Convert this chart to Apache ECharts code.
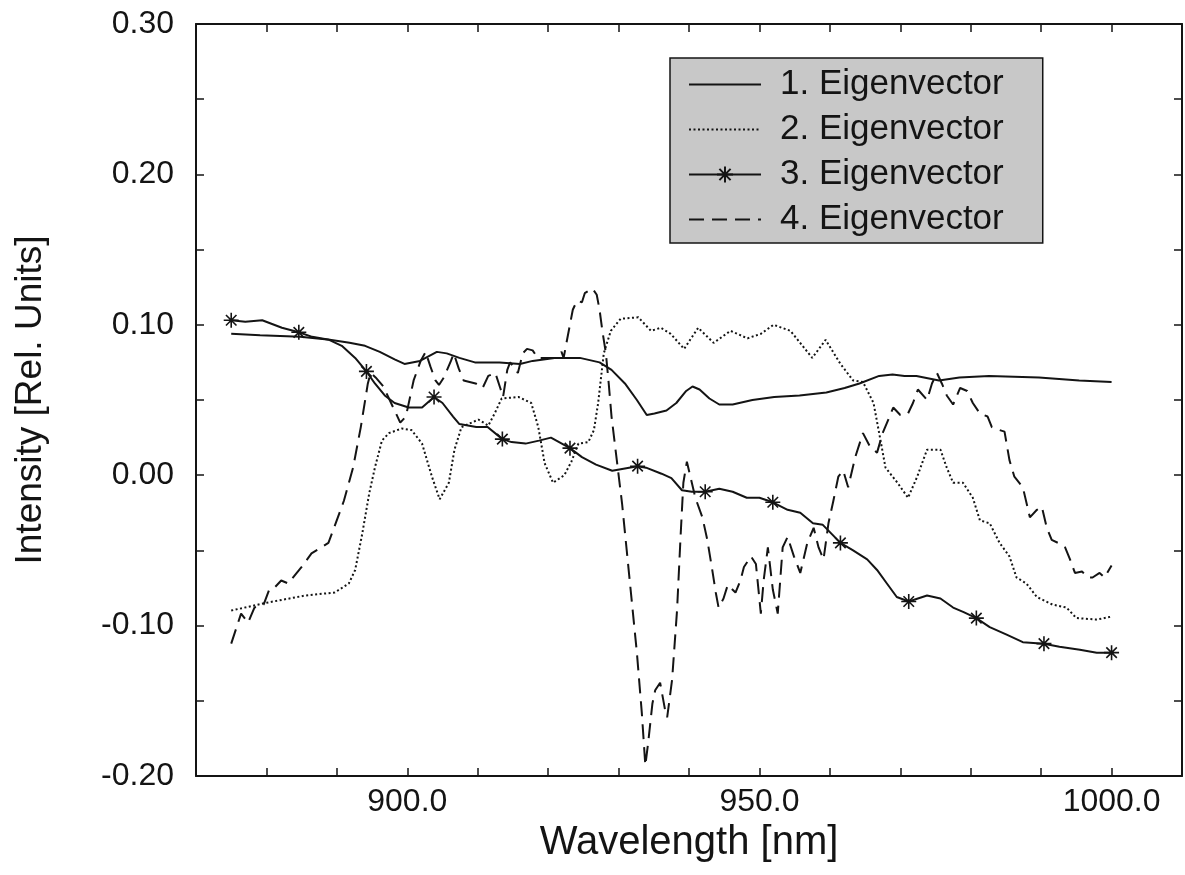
<!DOCTYPE html>
<html>
<head>
<meta charset="utf-8">
<title>Eigenvectors</title>
<script src="https://cdn.jsdelivr.net/npm/echarts@6/dist/echarts.min.js"></script>
<style>
  html, body { margin: 0; padding: 0; background: #fff; }
  #chart { width: 1185px; height: 875px; }
</style>
</head>
<body>
<div id="chart"></div>
<script>
// series names, in legend order
const names = ['1. Eigenvector', '2. Eigenvector', '3. Eigenvector', '4. Eigenvector'];
const xLabels = [900, 950, 1000];

// [wavelength nm, intensity]
const ev1 = [
  [875, 0.094], [879.1, 0.093], [884.8, 0.092], [889, 0.090], [891.8, 0.088], [894, 0.086],
  [896.1, 0.082], [898.2, 0.077], [899.6, 0.074], [901.8, 0.076], [904.2, 0.082], [905.6, 0.081],
  [907.4, 0.078], [909.6, 0.075], [913.1, 0.075], [916, 0.074], [917.8, 0.076], [920.9, 0.078],
  [924.5, 0.078], [927.3, 0.075], [929, 0.070], [930.9, 0.061], [932.6, 0.050], [934, 0.040],
  [935.1, 0.041], [936.8, 0.043], [938.2, 0.048], [939.6, 0.056], [940.5, 0.059], [941.5, 0.057],
  [942.9, 0.051], [944.3, 0.047], [946.2, 0.047], [949, 0.050], [952.1, 0.052], [955.7, 0.053],
  [959.5, 0.055], [962.1, 0.058], [964.2, 0.061], [967, 0.066], [968.9, 0.067], [970.6, 0.066],
  [972.3, 0.066], [975.5, 0.063], [978.4, 0.065], [982.6, 0.066], [989.7, 0.065], [995.4, 0.063],
  [1000, 0.062]
];

const ev2 = [
  [875, -0.090], [879.8, -0.085], [885.5, -0.080], [889.7, -0.078], [891.7, -0.072], [892.6, -0.063],
  [893.6, -0.039], [894.6, -0.012], [895.4, 0.005], [896.4, 0.023], [897.4, 0.028], [899.2, 0.031],
  [900.6, 0.030], [902.1, 0.021], [903.5, -0.001], [904.6, -0.016], [905.9, -0.005], [906.7, 0.017],
  [907.7, 0.032], [910.1, 0.037], [911.5, 0.033], [912.4, 0.041], [913.4, 0.051], [915.8, 0.052],
  [917.6, 0.048], [918.6, 0.032], [919.5, 0.008], [920.7, -0.005], [922.3, 0.000], [923.3, 0.009],
  [924.3, 0.021], [925.7, 0.022], [926.5, 0.030], [927.1, 0.048], [927.9, 0.081], [928.9, 0.096],
  [930.3, 0.104], [932.8, 0.105], [934.6, 0.096], [936, 0.098], [937.4, 0.094], [939.3, 0.084],
  [941.3, 0.098], [943.5, 0.088], [945.9, 0.096], [948.3, 0.091], [950.2, 0.094], [952, 0.100],
  [954.4, 0.096], [957.5, 0.078], [959.4, 0.090], [961.5, 0.074], [963.3, 0.063], [964.7, 0.062],
  [966.2, 0.048], [967.2, 0.023], [967.9, 0.005], [969.6, -0.005], [971.1, -0.015], [972.4, -0.001],
  [973.8, 0.017], [975.7, 0.017], [976.6, 0.005], [977.5, -0.005], [978.9, -0.005], [980.3, -0.015],
  [981.3, -0.030], [982.7, -0.032], [984.1, -0.045], [985.5, -0.054], [986.5, -0.068], [987.9, -0.072],
  [989.4, -0.081], [991.6, -0.086], [993.6, -0.088], [995, -0.095], [997.9, -0.096], [1000, -0.094]
];

const ev3 = [
  [875, 0.103], [877, 0.102], [879.4, 0.103], [882.2, 0.098], [884.6, 0.095], [886.5, 0.092],
  [888.9, 0.090], [890.7, 0.086], [892.6, 0.078], [894.2, 0.069], [895.4, 0.061], [896.8, 0.053],
  [898.2, 0.048], [900.2, 0.045], [902.1, 0.045], [903.8, 0.052], [905, 0.048], [906.5, 0.039],
  [907.4, 0.034], [909.8, 0.032], [911.4, 0.032], [913.5, 0.024], [914.8, 0.022], [916.8, 0.021],
  [918.7, 0.023], [920.4, 0.025], [923.1, 0.018], [924.8, 0.012], [926.8, 0.007], [929.1, 0.003],
  [932.7, 0.006], [933.9, 0.005], [936.1, 0.001], [937.5, -0.002], [939, -0.010], [940.4, -0.011],
  [942.3, -0.011], [944.3, -0.009], [946.2, -0.011], [948.2, -0.015], [950, -0.015], [951.9, -0.018],
  [954, -0.023], [955.8, -0.025], [957.6, -0.032], [959, -0.033], [961.5, -0.045], [963.3, -0.050],
  [965.3, -0.056], [966.7, -0.063], [968.1, -0.072], [969.5, -0.081], [971.2, -0.084], [973.8, -0.080],
  [975.7, -0.082], [977.5, -0.088], [979, -0.091], [980.8, -0.095], [982.7, -0.101], [985.1, -0.106],
  [987.4, -0.111], [990.4, -0.112], [992.6, -0.114], [995.5, -0.116], [997.9, -0.118], [1000, -0.118]
];
// wavelengths of ev3 that carry a star marker
const ev3Marks = [875, 884.6, 894.2, 903.8, 913.5, 923.1, 932.7, 942.3, 951.9, 961.5, 971.2, 980.8, 990.4, 1000];

const ev4 = [
  [875, -0.112], [876.4, -0.092], [877.4, -0.098], [878.3, -0.088], [879.6, -0.086], [880.4, -0.076],
  [881.1, -0.075], [882.1, -0.070], [883.1, -0.072], [885, -0.061], [886.4, -0.052], [887.8, -0.048],
  [888.8, -0.045], [889.6, -0.035], [891, -0.017], [892.3, 0.005], [893.4, 0.032], [894.4, 0.061],
  [894.8, 0.068], [895.5, 0.065], [896.6, 0.059], [898, 0.045], [899, 0.035], [899.8, 0.039],
  [900.9, 0.063], [901.9, 0.076], [902.6, 0.082], [903.3, 0.072], [904, 0.063], [904.5, 0.060],
  [905.2, 0.065], [906.2, 0.076], [906.6, 0.081], [907.3, 0.071], [908, 0.063], [909.7, 0.061],
  [910.7, 0.058], [911.5, 0.066], [912.5, 0.068], [913.2, 0.058], [913.6, 0.052], [914.2, 0.070],
  [914.6, 0.075], [915.3, 0.071], [915.7, 0.068], [916.4, 0.081], [917, 0.084], [917.8, 0.083],
  [918.5, 0.078], [921.2, 0.078], [921.9, 0.082], [922.2, 0.078], [922.6, 0.088], [923.5, 0.110],
  [924.1, 0.116], [924.8, 0.115], [925.2, 0.121], [925.9, 0.123], [926.3, 0.124], [926.9, 0.120],
  [927.3, 0.110], [927.7, 0.096], [928.2, 0.081], [928.6, 0.061], [929, 0.039], [929.8, 0.008],
  [930.5, -0.019], [931.2, -0.052], [931.9, -0.085], [932.6, -0.118], [933.3, -0.158], [933.8, -0.193],
  [934.2, -0.178], [934.8, -0.152], [935.2, -0.143], [935.9, -0.138], [936.6, -0.156], [936.9, -0.161],
  [937.6, -0.136], [938.3, -0.090], [938.8, -0.041], [939.2, -0.005], [939.7, 0.009], [940.2, -0.001],
  [940.9, -0.015], [941.9, -0.028], [942.6, -0.043], [943.3, -0.063], [943.8, -0.078], [944.2, -0.088],
  [944.9, -0.082], [945.5, -0.073], [946.6, -0.078], [947.3, -0.070], [947.8, -0.061], [948.8, -0.054],
  [949.5, -0.059], [950.2, -0.092], [950.6, -0.070], [951.2, -0.048], [951.9, -0.076], [952.6, -0.092],
  [953.3, -0.048], [954, -0.041], [954.9, -0.054], [955.8, -0.065], [956.8, -0.045], [957.7, -0.035],
  [958.4, -0.048], [959.1, -0.056], [959.8, -0.032], [960.5, -0.017], [961.2, -0.001], [961.9, 0.003],
  [962.6, -0.008], [963.6, 0.012], [964.7, 0.028], [965.7, 0.019], [966.7, 0.015], [967.5, 0.028],
  [968.3, 0.037], [969, 0.045], [970, 0.040], [971.1, 0.041], [971.8, 0.048], [972.5, 0.057],
  [973.8, 0.050], [974.5, 0.061], [975.2, 0.068], [975.9, 0.061], [976.6, 0.053], [977.5, 0.047],
  [978.5, 0.058], [979.5, 0.056], [980.3, 0.048], [981.3, 0.041], [982.4, 0.039], [983, 0.032],
  [984.1, 0.030], [984.8, 0.029], [985.5, 0.010], [986.2, -0.001], [987.4, -0.008], [988.4, -0.028],
  [989.4, -0.023], [990.1, -0.021], [990.8, -0.035], [991.5, -0.043], [992.4, -0.045], [993.4, -0.048],
  [994.1, -0.056], [994.8, -0.065], [995.8, -0.064], [996.6, -0.068], [997.3, -0.068], [998.3, -0.065],
  [999, -0.068], [1000, -0.060]
];

const ink = '#141414';
const font = 'Liberation Sans, Arial, Helvetica, sans-serif';
const star = 'path://M10,0L10,20M0,10L20,10M3,3L17,17M3,17L17,3';

let chart = echarts.init(document.getElementById('chart'));

function frameX(pos, labels){
  return {
    type: 'value', position: pos, min: 870, max: 1010, interval: 10,
    axisLine: { show: true, onZero: false, lineStyle: { color: ink, width: 2 } },
    axisTick: { show: true, inside: true, length: 8, lineStyle: { color: ink, width: 1.5 } },
    splitLine: { show: false },
    axisLabel: labels ? {
      show: true, margin: 10, color: ink, fontFamily: font, fontSize: 32,
      formatter: function(v){ return xLabels.indexOf(v) >= 0 ? v.toFixed(1) : ''; }
    } : { show: false }
  };
}
function frameY(pos, labels){
  return {
    type: 'value', position: pos, min: -0.2, max: 0.3, interval: 0.05,
    axisLine: { show: true, onZero: false, lineStyle: { color: ink, width: 2 } },
    axisTick: { show: true, inside: true, length: 8, lineStyle: { color: ink, width: 1.5 } },
    splitLine: { show: false },
    axisLabel: labels ? {
      show: true, margin: 22, color: ink, fontFamily: font, fontSize: 32,
      formatter: function(v){ return Math.round(v * 100) % 10 === 0 ? v.toFixed(2) : ''; }
    } : { show: false }
  };
}

let xBottom = frameX('bottom', true);
xBottom.name = 'Wavelength [nm]';
xBottom.nameLocation = 'middle';
xBottom.nameGap = 45;
xBottom.nameTextStyle = { color: ink, fontFamily: font, fontSize: 40 };

let yLeft = frameY('left', true);
yLeft.name = 'Intensity [Rel. Units]';
yLeft.nameLocation = 'middle';
yLeft.nameGap = 147;
yLeft.nameTextStyle = { color: ink, fontFamily: font, fontSize: 37 };

let option = {
  animation: false,
  backgroundColor: '#fff',
  grid: { left: 196, right: 2, top: 24, bottom: 99 },
  xAxis: [xBottom, frameX('top', false)],
  yAxis: [yLeft, frameY('right', false)],
  legend: {
    orient: 'vertical',
    left: 670, top: 58,
    // plain lines need no symbol in the legend, only the star series keeps its marker
    data: names.map(function(n, i){
      return i === 2 ? { name: n } : { name: n, itemStyle: { opacity: 0 } };
    }),
    backgroundColor: '#c8c8c8',
    borderColor: ink, borderWidth: 1.5, borderRadius: 0,
    padding: [9, 39, 6, 18],
    itemWidth: 72, itemHeight: 20, itemGap: 10,
    textStyle: { color: ink, fontFamily: font, fontSize: 35, padding: [0, 0, 0, 14] }
  },
  series: [
    {
      name: names[0], type: 'line', data: ev1, symbol: 'none',
      lineStyle: { color: ink, width: 2 }, itemStyle: { color: ink }
    },
    {
      name: names[1], type: 'line', data: ev2, symbol: 'none',
      lineStyle: { color: ink, width: 2, type: [2, 2.5] }, itemStyle: { color: ink }
    },
    {
      name: names[2], type: 'line', symbol: star, symbolSize: 15, showAllSymbol: true,
      data: ev3.map(function(p){
        return ev3Marks.indexOf(p[0]) >= 0 ? { value: p } : { value: p, symbol: 'none' };
      }),
      lineStyle: { color: ink, width: 2 },
      itemStyle: { color: ink, borderColor: ink, borderWidth: 1.6 }
    },
    {
      name: names[3], type: 'line', data: ev4, symbol: 'none',
      lineStyle: { color: ink, width: 2, type: [15, 8] }, itemStyle: { color: ink }
    }
  ]
};
chart.setOption(option);
</script>
</body>
</html>
